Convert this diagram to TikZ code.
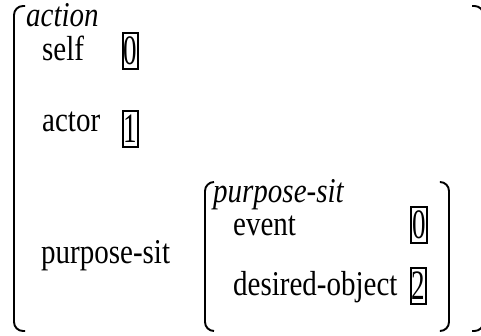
\documentclass[tikz,border=0pt]{standalone}
\usepackage{fontspec}
\setmainfont{Liberation Serif}
\usepackage{graphicx}
\usetikzlibrary{positioning}

\newcommand{\avmfont}{\fontsize{29}{35}\selectfont}
\newcommand{\tagnum}[1]{\scalebox{1}[1.55]{#1}}

\begin{document}
\begin{tikzpicture}[x=1pt, y=-1pt,
  attr/.style={anchor=base west, inner sep=0pt, font=\avmfont, yscale=1.2},
  avmtype/.style={attr, font=\avmfont\itshape},
  tagbox/.style={draw, line width=2pt, inner xsep=0.8pt, inner ysep=0pt,
                 minimum height=36pt, font=\fontsize{27}{32}\selectfont},
  brack/.style={line width=1.9pt, rounded corners=9pt},
]
  \useasboundingbox (0,0) rectangle (481,335);

  % Brackets
  \draw[brack] (25,6) -- (14,6) -- (14,331) -- (25,331);
  \draw[brack] (472,6) -- (483.5,6) -- (483.5,331) -- (472,331);
  \draw[brack] (214,182) -- (205,182) -- (205,331) -- (214,331);
  \draw[brack] (441,182) -- (449,182) -- (449,331) -- (441,331);

  % Outer structure
  \node[avmtype] (action) at (26,26) {action};
  \node[attr] (self) at (42,60) {self};
  \node[tagbox] (selftag) at (130.5,51) {\tagnum{0}};
  \node[attr] (actor) at (42,131) {actor};
  \node[tagbox] (actortag) at (130.5,129) {\tagnum{1}};
  \node[attr] (purpose) at (41,263) {purpose-sit};

  % Inner structure
  \node[avmtype] (purposesit) at (213,202) {purpose-sit};
  \node[attr] (event) at (233,235) {event};
  \node[tagbox] (eventtag) at (419,225) {\tagnum{0}};
  \node[attr] (desired) at (233,295) {desired-object};
  \node[tagbox] (desiredtag) at (418.5,285.5) {\tagnum{2}};
\end{tikzpicture}
\end{document}
